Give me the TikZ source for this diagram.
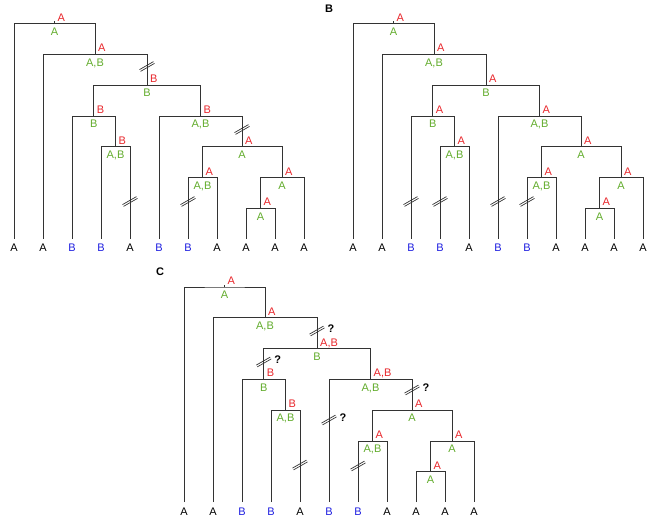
\documentclass[tikz,border=0pt]{standalone}
\usepackage{fontspec}
\setmainfont{Liberation Sans}
\usetikzlibrary{calc}
\definecolor{ink}{HTML}{333333}
\definecolor{ancred}{HTML}{E8262B}
\definecolor{obsgreen}{HTML}{62AC2C}
\definecolor{tipblue}{HTML}{1E1EE0}

\begin{document}
\begin{tikzpicture}[
  x=1pt, y=-1pt,
  font=\fontsize{11}{13}\selectfont,
  branch/.style={draw=ink, line width=0.8pt},
  anc/.style={anchor=base west, inner sep=0pt, text=ancred},
  obs/.style={anchor=north, inner sep=0pt, text=obsgreen},
  tip/.style={anchor=north, inner sep=0pt},
  panel/.style={inner sep=0pt, font=\fontsize{11}{13}\selectfont\bfseries},
  qmark/.style={inner sep=0pt, font=\fontsize{11}{13}\selectfont\bfseries},
  brk/.pic={
    \draw[ink, line width=0.7pt] (-7.5,3.1) -- (6.5,-4.9);
    \draw[ink, line width=0.7pt] (-6.5,4.9) -- (7.5,-3.1);
  }
]
\useasboundingbox (0,-0.5) rectangle (647,517);

% --- TREE SKELETON (same for A, B, C) ---
\foreach \p/\dx/\dy in {a/0/0, b/339/0, c/170/263.5} {
  \begin{scope}[shift={(\dx,\dy)}]
    \foreach \i in {1,...,11}
      \coordinate (\p-l\i) at ({14+29*(\i-1)},238);
    \coordinate (\p-root) at (54.5,23);
    \coordinate (\p-n2)   at (95,53.8);
    \coordinate (\p-n3)   at (147,84.6);
    \coordinate (\p-n4)   at (93.75,115.4);
    \coordinate (\p-n6)   at (115.5,146.2);
    \coordinate (\p-n5)   at (200.5,115.4);
    \coordinate (\p-n7)   at (242,146.2);
    \coordinate (\p-n8)   at (202.5,177);
    \coordinate (\p-n9)   at (282,177);
    \coordinate (\p-n10)  at (260.5,207.8);
    \foreach \n/\l/\r in {root/l1/n2, n2/l2/n3, n3/n4/n5, n4/l3/n6, n6/l4/l5,
                          n5/l6/n7, n7/n8/n9, n8/l7/l8, n9/n10/l11, n10/l9/l10}
      \draw[branch] (\p-\l) |- (\p-\n) -| (\p-\r);
    \draw[branch] (\p-root) -- ++(0,-2.5);
    % leaf states
    \foreach \i/\t/\c in {1/A/black, 2/A/black, 3/B/tipblue, 4/B/tipblue, 5/A/black,
                          6/B/tipblue, 7/B/tipblue, 8/A/black, 9/A/black, 10/A/black, 11/A/black}
      \node[tip, text=\c] (\p-t\i) at ([shift={(0,5.5)}]\p-l\i) {\t};
  \end{scope}
}

% --- PANEL A ---
\foreach \n/\r/\g in {root/A/A, n2/A/{A,B}, n3/B/B, n4/B/B, n6/B/{A,B},
                      n5/B/{A,B}, n7/A/A, n8/A/{A,B}, n9/A/A, n10/A/A} {
  \node[anc] (a-\n-r) at ([shift={(3,-2.5)}]a-\n) {\r};
  \node[obs] (a-\n-g) at ([shift={(0,4)}]a-\n) {\g};
}
\pic at (147,66) {brk};
\pic at (242,129) {brk};
\pic at (130,201) {brk};
\pic at (188,201) {brk};

% --- PANEL B ---
\node[panel] (lblB) at (329,8) {B};
\foreach \n/\r/\g in {root/A/A, n2/A/{A,B}, n3/A/B, n4/A/B, n6/A/{A,B},
                      n5/A/{A,B}, n7/A/A, n8/A/{A,B}, n9/A/A, n10/A/A} {
  \node[anc] (b-\n-r) at ([shift={(3,-2.5)}]b-\n) {\r};
  \node[obs] (b-\n-g) at ([shift={(0,4)}]b-\n) {\g};
}
\begin{scope}[shift={(339,0)}]
  \foreach \x in {72,101,159,188}
    \pic at (\x,201) {brk};
\end{scope}

% --- PANEL C ---
\node[panel] (lblC) at (160,271.5) {C};
\foreach \n/\r/\g in {root/A/A, n2/A/{A,B}, n3/{A,B}/B, n4/B/B, n6/B/{A,B},
                      n5/{A,B}/{A,B}, n7/A/A, n8/A/{A,B}, n9/A/A, n10/A/A} {
  \node[anc] (c-\n-r) at ([shift={(3,-2.5)}]c-\n) {\r};
  \node[obs] (c-\n-g) at ([shift={(0,4)}]c-\n) {\g};
}
\begin{scope}[shift={(170,263.5)}]
  % uncertain losses
  \foreach \x/\y in {147/67, 93.75/98, 242/126, 159/156} {
    \pic at (\x,\y) {brk};
    \node[qmark] at (\x+14,\y-2) {?};
  }
  \pic at (130,201) {brk};
  \pic at (188,202) {brk};
\end{scope}

\end{tikzpicture}
\end{document}
